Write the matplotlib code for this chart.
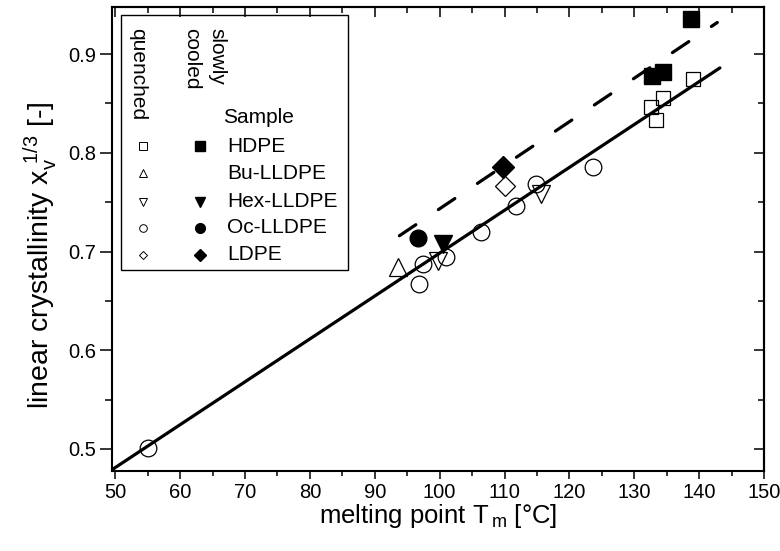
import matplotlib
matplotlib.use("Agg")
import matplotlib.pyplot as plt
from matplotlib.patches import Rectangle

plt.rcParams["font.family"] = ["Liberation Sans", "DejaVu Sans"]
plt.rcParams["mathtext.default"] = "regular"

# ── Data ─────────────────────────────────────────────────────
# quenched samples (open symbols)
hdpe_q_x = [132.6, 133.3, 134.4, 139.0]
hdpe_q_y = [0.846, 0.833, 0.856, 0.875]
bu_q_x = [93.6]
bu_q_y = [0.684]
hex_q_x = [99.7, 115.6]
hex_q_y = [0.690, 0.758]
oc_q_x = [55.1, 96.8, 97.4, 101.0, 106.4, 111.7, 114.9, 123.6]
oc_q_y = [0.501, 0.667, 0.687, 0.694, 0.720, 0.746, 0.768, 0.786]
ldpe_q_x = [110.0]
ldpe_q_y = [0.766]

# slowly cooled samples (filled symbols)
hdpe_s_x = [132.8, 134.5, 138.8]
hdpe_s_y = [0.878, 0.882, 0.936]
hex_s_x = [100.5]
hex_s_y = [0.708]
oc_s_x = [96.7]
oc_s_y = [0.714]
ldpe_s_x = [109.8]
ldpe_s_y = [0.786]

# linear fits
fit_q_x = [49.5, 143.2]
fit_q_y = [0.479, 0.886]
fit_s_x = [93.8, 142.8]
fit_s_y = [0.716, 0.932]

samples = ["HDPE", "Bu-LLDPE", "Hex-LLDPE", "Oc-LLDPE", "LDPE"]

# ── Figure ───────────────────────────────────────────────────
fig = plt.figure(figsize=(7.8, 5.51), dpi=100)
ax = fig.add_axes([0.1436, 0.1452, 0.8359, 0.8421])

ax.plot(fit_q_x, fit_q_y, color="black", lw=2.3, solid_capstyle="round", zorder=3)
ax.plot(fit_s_x, fit_s_y, color="black", lw=2.3, dashes=(6.2, 8.5),
        dash_capstyle="round", zorder=3)

open_kw = dict(ls="none", mfc="none", mec="black", mew=0.9, zorder=2)
ax.plot(hdpe_q_x, hdpe_q_y, "s", ms=10.5, **open_kw)
ax.plot(bu_q_x, bu_q_y, "^", ms=13.5, **open_kw)
ax.plot(hex_q_x, hex_q_y, "v", ms=13.5, **open_kw)
ax.plot(oc_q_x, oc_q_y, "o", ms=12, **open_kw)
ax.plot(ldpe_q_x, ldpe_q_y, "D", ms=10.5, **open_kw)

fill_kw = dict(ls="none", color="black", zorder=4)
ax.plot(hdpe_s_x, hdpe_s_y, "s", ms=11, **fill_kw)
ax.plot(hex_s_x, hex_s_y, "v", ms=13.5, **fill_kw)
ax.plot(oc_s_x, oc_s_y, "o", ms=12, **fill_kw)
ax.plot(ldpe_s_x, ldpe_s_y, "D", ms=11, **fill_kw)

ax.set_xlim(49.5, 150)
ax.set_ylim(0.4777, 0.9477)
ax.set_xticks(range(50, 151, 10))
ax.set_xticks(range(55, 150, 10), minor=True)
ax.set_yticks([0.5, 0.6, 0.7, 0.8, 0.9])
ax.set_yticks([0.55, 0.65, 0.75, 0.85], minor=True)
ax.set_yticklabels(["0.5", "0.6", "0.7", "0.8", "0.9"])

for s in ax.spines.values():
    s.set_linewidth(1.5)
ax.tick_params(axis="x", which="major", direction="out", length=6, width=1.1,
               labelsize=14.5, pad=3)
ax.tick_params(axis="x", which="minor", direction="out", length=3.8, width=1.1)
ax.tick_params(axis="y", which="major", direction="out", length=8.5, width=1.1,
               labelsize=14.5, pad=3)
ax.tick_params(axis="y", which="minor", direction="out", length=5, width=1.1)

# inward ticks on top and right
top = ax.secondary_xaxis("top")
top.set_xticks(range(50, 151, 10))
top.set_xticks(range(55, 150, 10), minor=True)
top.tick_params(which="major", direction="in", length=7, width=1.1, labeltop=False)
top.tick_params(which="minor", direction="in", length=4.5, width=1.1)
right = ax.secondary_yaxis("right")
right.set_yticks([0.5, 0.6, 0.7, 0.8, 0.9])
right.set_yticks([0.55, 0.65, 0.75, 0.85], minor=True)
right.tick_params(which="major", direction="in", length=7, width=1.1, labelright=False)
right.tick_params(which="minor", direction="in", length=4.5, width=1.1)
for sec in (top, right):
    for s in sec.spines.values():
        s.set_linewidth(1.5)

ax.set_xlabel(r"melting point T$_{\,m}$ [°C]", fontsize=18.5, labelpad=0)
ax.set_ylabel(r"linear crystallinity x$_v^{\ 1/3}$ [-]", fontsize=20.5)
ax.yaxis.set_label_coords(-0.082, 0.466)

# ── Legend drawn by hand ─────────────────────────────────────
tr = ax.transAxes
ax.add_patch(Rectangle((0.0138, 0.433), 0.348, 0.550, transform=tr,
                       fill=False, lw=1.0, ec="black", zorder=5))
ax.text(0.0394, 0.955, "quenched", transform=tr, rotation=270, ha="center",
        va="top", fontsize=15)
ax.text(0.122, 0.955, "cooled", transform=tr, rotation=270, ha="center",
        va="top", fontsize=15)
ax.text(0.1606, 0.955, "slowly", transform=tr, rotation=270, ha="center",
        va="top", fontsize=15)
ax.text(0.170, 0.761, "Sample", transform=tr, ha="left", va="center",
        fontsize=15)

row_y = [0.700, 0.642, 0.580, 0.524, 0.466]
open_marks = ["s", "^", "v", "o", "D"]
filled_marks = ["s", None, "v", "o", "D"]
for name, yy, mo, mf in zip(samples, row_y, open_marks, filled_marks):
    ax.plot([0.0475], [yy], mo, transform=tr, ms=5.5 if mo != "D" else 4.5,
            mfc="none", mec="black", mew=0.7, clip_on=False, zorder=5)
    if mf is not None:
        ax.plot([0.135], [yy], mf, transform=tr, ms=7 if mf != "D" else 6,
                color="black", clip_on=False, zorder=5)
    ax.text(0.176, yy, name, transform=tr, ha="left", va="center", fontsize=15)

fig.savefig("out.png", dpi=100)
